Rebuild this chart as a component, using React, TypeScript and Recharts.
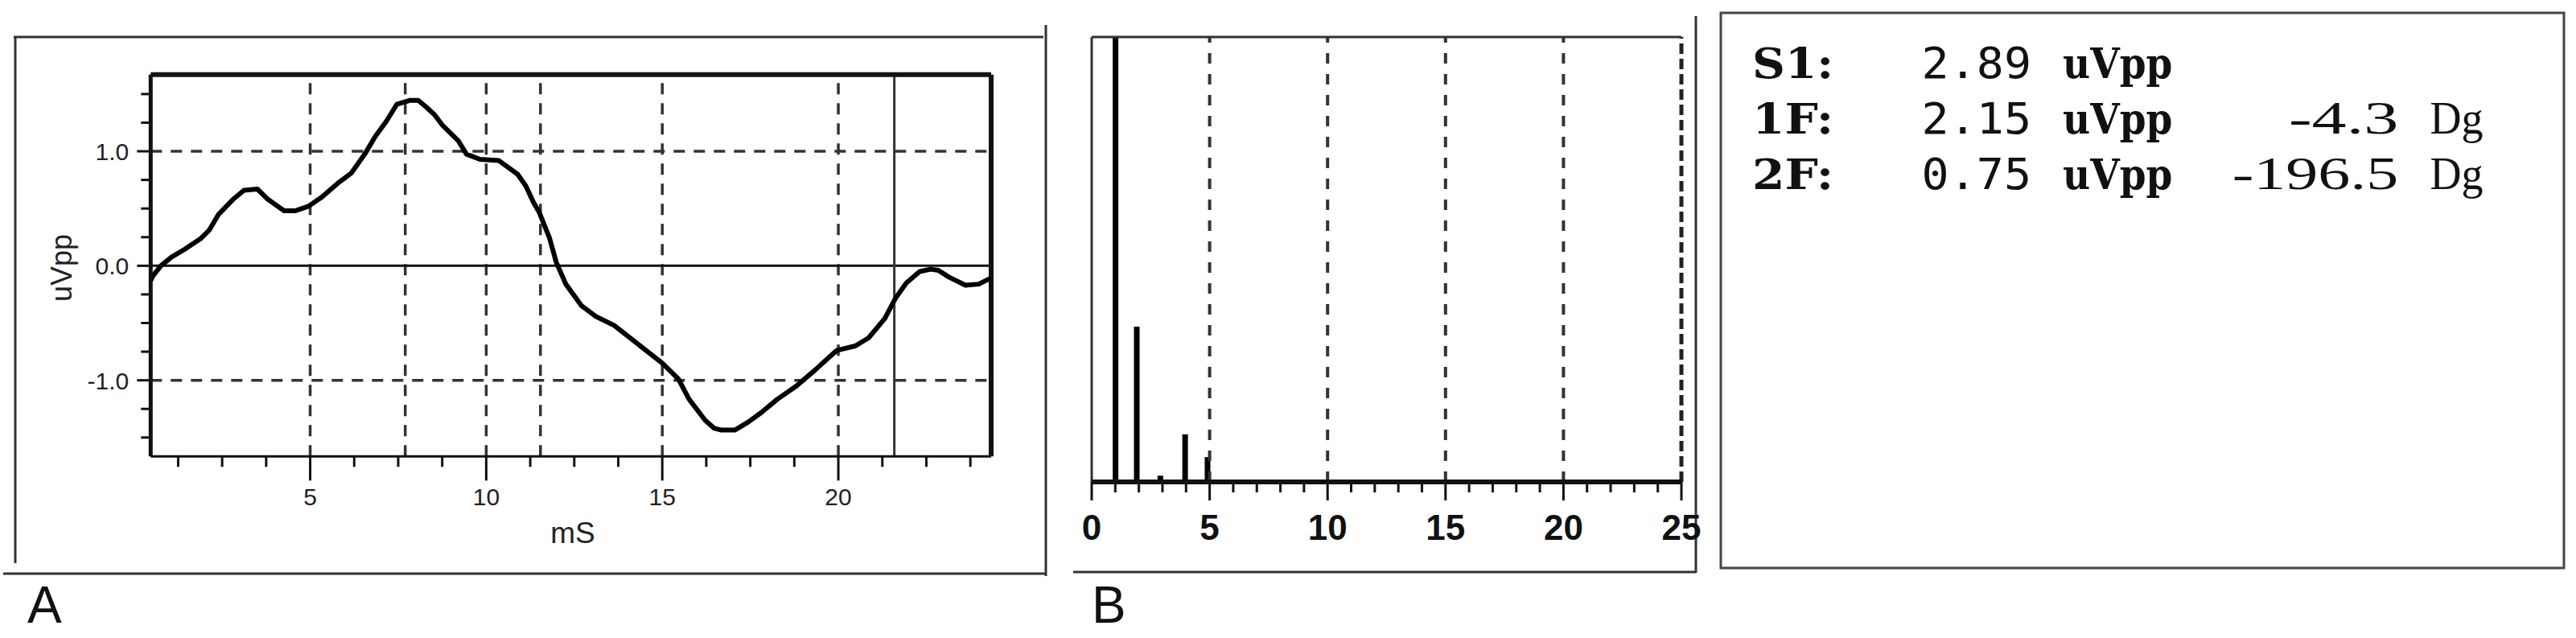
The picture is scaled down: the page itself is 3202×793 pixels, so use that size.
import React from 'react';
import { LineChart, Line, XAxis, YAxis, ReferenceLine, ComposedChart, Bar } from 'recharts';

// ---------- Panel A: averaged waveform ----------
const waveTimeMs = [
  0.47, 0.53, 0.76, 1.06, 1.44, 1.9, 2.13, 2.4, 2.81, 3.12, 3.5, 3.8, 4.26, 4.57, 4.95,
  5.33, 5.78, 6.17, 6.55, 6.85, 7.16, 7.46, 7.84, 8.07, 8.3, 8.53, 8.75, 9.21, 9.44, 9.82,
  10.35, 10.89, 11.12, 11.34, 11.5, 11.8, 11.99, 12.26, 12.71, 13.1, 13.63, 14.09, 14.54, 15.0,
  15.46, 15.76, 16.22, 16.48, 16.68, 17.06, 17.44, 17.82, 18.27, 18.81, 19.34, 19.95, 20.48,
  20.86, 21.32, 21.63, 21.93, 22.31, 22.62, 22.84, 23.15, 23.61, 23.99, 24.25, 24.34,
];
const waveUVpp = [
  -0.13, -0.09, 0.0, 0.075, 0.145, 0.24, 0.31, 0.45, 0.58, 0.66, 0.67, 0.58, 0.48, 0.48, 0.52,
  0.6, 0.72, 0.81, 0.975, 1.13, 1.26, 1.41, 1.445, 1.445, 1.385, 1.32, 1.23, 1.09, 0.975, 0.93,
  0.92, 0.8, 0.7, 0.555, 0.47, 0.24, 0.03, -0.16, -0.35, -0.44, -0.52, -0.63, -0.74, -0.85,
  -0.99, -1.165, -1.35, -1.42, -1.435, -1.435, -1.365, -1.28, -1.165, -1.05, -0.91, -0.74, -0.7,
  -0.63, -0.46, -0.28, -0.15, -0.05, -0.03, -0.04, -0.1, -0.17, -0.16, -0.12, -0.11,
];
const waveDomainMs = [0.47, 24.34];
const waveDomainUVpp = [-1.665, 1.67];
const gridTimesMs = [5, 10, 15, 20];
const markerTimesMs = [7.7, 11.54];
const cursorTimeMs = 21.59;
const gridLevelsUVpp = [-1, 1];
const xTicksA = [1.25, 2.5, 3.75, 5, 6.25, 7.5, 8.75, 10, 11.25, 12.5, 13.75, 15, 16.25, 17.5, 18.75, 20, 21.25, 22.5, 23.75];
const xLabelsA = [5, 10, 15, 20];
const yTicksA = [-1.5, -1.25, -1, -0.75, -0.5, -0.25, 0, 0.25, 0.5, 0.75, 1, 1.25, 1.5];
const yLabelsA = [-1, 0, 1];

// ---------- Panel B: harmonic spectrum ----------
const harmonicFreq = [1, 1.9, 2.9, 3.95, 4.9];
const harmonicAmp = [2.15, 0.75, 0.03, 0.23, 0.12];
const spectrumDomainX = [0, 25];
const spectrumDomainY = [0, 2.15];
const xTicksB = [0, 1, 2, 3, 4, 5, 6, 7, 8, 9, 10, 11, 12, 13, 14, 15, 16, 17, 18, 19, 20, 21, 22, 23, 24, 25];
const xLabelsB = [0, 5, 10, 15, 20, 25];
const gridFreqB = [5, 10, 15, 20];

// ---------- Summary panel ----------
const summaryLabels = ['S1:', '1F:', '2F:'];
const summaryAmps = ['2.89', '2.15', '0.75'];
const summaryUnits = ['uVpp', 'uVpp', 'uVpp'];
const summaryPhases = ['', '-4.3', '-196.5'];
const summaryPhaseUnit = ['', 'Dg', 'Dg'];

const waveData = waveTimeMs.map((t, i) => ({ t, v: waveUVpp[i] }));
const spectrumData = harmonicFreq.map((f, i) => ({ f, amp: harmonicAmp[i] }));

const SANS = '"Liberation Sans", Arial, sans-serif';
const INK = '#111';

const XTickA = (props: any) => {
  const { x, y, payload } = props;
  const major = xLabelsA.includes(payload.value);
  return (
    <g>
      <line x1={x} x2={x} y1={y} y2={y + (major ? 30 : 13)} stroke={INK} strokeWidth={3} />
      {major && (
        <text x={x} y={y + 61} textAnchor="middle" fontFamily={SANS} fontSize={30} fill="#222">
          {payload.value}
        </text>
      )}
    </g>
  );
};

const YTickA = (props: any) => {
  const { x, y, payload } = props;
  const major = yLabelsA.includes(payload.value);
  return (
    <g>
      <line x1={x} x2={x - (major ? 17 : 12)} y1={y} y2={y} stroke={INK} strokeWidth={3} />
      {major && (
        <text x={x - 27} y={y + 11} textAnchor="end" fontFamily={SANS} fontSize={30} fill="#222">
          {payload.value.toFixed(1)}
        </text>
      )}
    </g>
  );
};

const XTickB = (props: any) => {
  const { x, y, payload } = props;
  const major = xLabelsB.includes(payload.value);
  return (
    <g>
      <line x1={x} x2={x} y1={y} y2={y + (major ? 23 : 13)} stroke={INK} strokeWidth={3} />
      {major && (
        <text x={x} y={y + 72} textAnchor="middle" fontFamily={SANS} fontWeight="bold" fontSize={44} fill="#111">
          {payload.value}
        </text>
      )}
    </g>
  );
};

const PITCH = 35.1;
const TX0 = 2178;
const BASELINES = [96.7, 166, 235];

const Token = ({ text, col, row, kind }: { text: string; col: number; row: number; kind: string }) => {
  if (!text) return null;
  const style =
    kind === 'label'
      ? { fontFamily: '"DejaVu Serif", serif', fontWeight: 'bold' as const, fontSize: 53 }
      : kind === 'value'
      ? { fontFamily: '"DejaVu Sans Mono", monospace', fontWeight: 'normal' as const, fontSize: 53 }
      : { fontFamily: '"Liberation Serif", serif', fontWeight: 'normal' as const, fontSize: 58 };
  return (
    <text
      x={TX0 + col * PITCH}
      y={BASELINES[row]}
      textLength={text.length * PITCH - 4}
      lengthAdjust="spacingAndGlyphs"
      fill="#111"
      {...style}
    >
      {text}
    </text>
  );
};

export default function App() {
  return (
    <div style={{ position: 'absolute', left: 0, top: 0, width: 3202, height: 793, background: '#fff', overflow: 'hidden' }}>
      <svg width={3202} height={793} style={{ position: 'absolute', left: 0, top: 0 }}>
        {/* Panel A frame */}
        <line x1={17} y1={46} x2={1297} y2={46} stroke="#333" strokeWidth={3} />
        <line x1={19} y1={46} x2={19} y2={700} stroke="#333" strokeWidth={3} />
        <line x1={1300} y1={31} x2={1300} y2={716} stroke="#333" strokeWidth={3} />
        <line x1={4} y1={713} x2={1300} y2={713} stroke="#333" strokeWidth={3} />
        <text x={34} y={774} fontFamily={SANS} fontSize={64} fill="#111">A</text>
        <text x={76} y={333} transform="rotate(-90 76 333)" textAnchor="middle" dominantBaseline="central" fontFamily={SANS} fontSize={36} fill="#222">uVpp</text>
        <text x={712} y={675} textAnchor="middle" fontFamily={SANS} fontSize={37} fill="#222">mS</text>

        {/* Panel B frame */}
        <line x1={2108} y1={20} x2={2108} y2={712} stroke="#333" strokeWidth={3} />
        <line x1={1334} y1={711} x2={2108} y2={711} stroke="#333" strokeWidth={3} />
        <text x={1357} y={774} fontFamily={SANS} fontSize={64} fill="#111">B</text>

        {/* Summary panel */}
        <rect x={2139} y={16} width={1048} height={690} fill="none" stroke="#444" strokeWidth={3} />
        {summaryLabels.map((lab, r) => (
          <g key={r}>
            <Token text={lab} col={0} row={r} kind="label" />
            <Token text={summaryAmps[r]} col={6} row={r} kind="value" />
            <Token text={summaryUnits[r]} col={11} row={r} kind="label" />
            <Token text={summaryPhases[r]} col={23 - summaryPhases[r].length} row={r} kind="phase" />
            <Token text={summaryPhaseUnit[r]} col={24} row={r} kind="phase" />
          </g>
        ))}
      </svg>

      <div style={{ position: 'absolute', left: 0, top: 0 }}>
        <LineChart width={1320} height={793} data={waveData} margin={{ top: 92.7, right: 88, bottom: 165.7, left: 127.3 }}>
          <XAxis
            dataKey="t"
            type="number"
            domain={waveDomainMs}
            allowDataOverflow
            ticks={xTicksA}
            interval={0}
            height={60}
            tickSize={0}
            tickMargin={0}
            tickLine={false}
            axisLine={{ stroke: INK, strokeWidth: 3 }}
            tick={XTickA}
          />
          <YAxis
            type="number"
            domain={waveDomainUVpp}
            allowDataOverflow
            ticks={yTicksA}
            interval={0}
            width={60}
            tickSize={0}
            tickMargin={0}
            tickLine={false}
            axisLine={{ stroke: INK, strokeWidth: 5 }}
            tick={YTickA}
          />
          {gridLevelsUVpp.map((v) => (
            <ReferenceLine key={'h' + v} y={v} stroke="#333" strokeWidth={3.5} strokeDasharray="14 11" />
          ))}
          {gridTimesMs.map((t) => (
            <ReferenceLine key={'g' + t} x={t} stroke="#333" strokeWidth={3.5} strokeDasharray="14 11" />
          ))}
          {markerTimesMs.map((t) => (
            <ReferenceLine key={'m' + t} x={t} stroke="#333" strokeWidth={3.5} strokeDasharray="14 11" />
          ))}
          <ReferenceLine y={0} stroke={INK} strokeWidth={3} />
          <ReferenceLine x={cursorTimeMs} stroke="#333" strokeWidth={3} />
          <ReferenceLine y={waveDomainUVpp[1]} stroke={INK} strokeWidth={6} />
          <ReferenceLine x={waveDomainMs[1]} stroke={INK} strokeWidth={6} />
          <Line
            dataKey="v"
            type="linear"
            stroke="#000"
            strokeWidth={6}
            strokeLinejoin="round"
            dot={false}
            isAnimationActive={false}
          />
        </LineChart>
      </div>

      <div style={{ position: 'absolute', left: 1320, top: 0 }}>
        <ComposedChart width={800} height={793} data={spectrumData} margin={{ top: 46, right: 30, bottom: 114, left: 37 }}>
          <XAxis
            dataKey="f"
            type="number"
            domain={spectrumDomainX}
            allowDataOverflow
            ticks={xTicksB}
            interval={0}
            height={80}
            tickSize={0}
            tickMargin={0}
            tickLine={false}
            axisLine={{ stroke: INK, strokeWidth: 6 }}
            tick={XTickB}
          />
          <YAxis type="number" domain={spectrumDomainY} allowDataOverflow hide />
          {gridFreqB.map((f) => (
            <ReferenceLine key={'b' + f} x={f} stroke="#333" strokeWidth={4} strokeDasharray="13 13" />
          ))}
          <ReferenceLine x={spectrumDomainX[1]} stroke="#222" strokeWidth={5} strokeDasharray="13 6" />
          <ReferenceLine x={spectrumDomainX[0]} stroke="#333" strokeWidth={3} />
          <ReferenceLine y={spectrumDomainY[1]} stroke="#333" strokeWidth={3} />
          <Bar dataKey="amp" fill="#000" barSize={7} isAnimationActive={false} />
        </ComposedChart>
      </div>
    </div>
  );
}
